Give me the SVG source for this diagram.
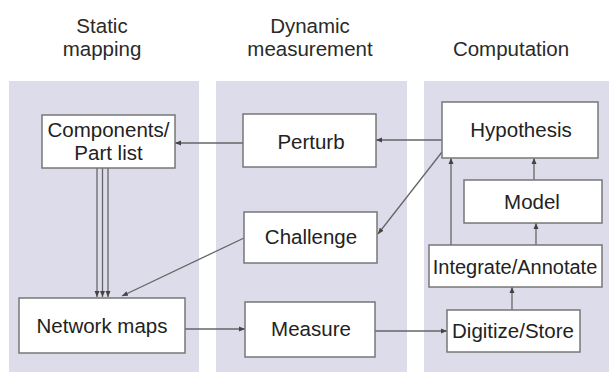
<svg xmlns="http://www.w3.org/2000/svg" width="609" height="372" viewBox="0 0 609 372">
<defs>
<marker id="ah" markerUnits="userSpaceOnUse" markerWidth="6" markerHeight="6" refX="6" refY="3" orient="auto">
<path d="M0,0.5 L6,3 L0,5.5 z" fill="#444"/>
</marker>
<style>
.panel{fill:#dcdcea}
.box{fill:#fff;stroke:#777;stroke-width:1.5}
.t{font-family:"Liberation Sans",Arial,sans-serif;font-size:20.5px;fill:#222;text-anchor:middle}
.h{font-family:"Liberation Sans",Arial,sans-serif;font-size:20.5px;fill:#2a2a2a;text-anchor:middle}
.c{stroke:#666;stroke-width:1.3;fill:none;marker-end:url(#ah)}
</style>
</defs>
<rect width="609" height="372" fill="#fff"/>
<g id="headers">
<text class="h" x="102" y="32.5">Static</text>
<text class="h" x="102" y="55.5">mapping</text>
<text class="h" x="310" y="32.5">Dynamic</text>
<text class="h" x="310" y="55.5">measurement</text>
<text class="h" x="511" y="55.5">Computation</text>
</g>
<g id="panels">
<rect class="panel" x="9" y="81" width="190" height="291"/>
<rect class="panel" x="216" y="81" width="191" height="291"/>
<rect class="panel" x="424" y="81" width="185" height="291"/>
</g>
<g id="connectors">
<line class="c" x1="442" y1="140" x2="376" y2="140"/>
<line class="c" x1="243" y1="143" x2="175" y2="143"/>
<line class="c" x1="442" y1="152" x2="378" y2="234"/>
<line class="c" x1="244" y1="238" x2="122" y2="296"/>
<line class="c" x1="97" y1="168" x2="97" y2="297"/>
<line class="c" x1="102.5" y1="168" x2="102.5" y2="297"/>
<line class="c" x1="108" y1="168" x2="108" y2="297"/>
<line class="c" x1="185" y1="329" x2="245" y2="329"/>
<line class="c" x1="375" y1="331" x2="447" y2="331"/>
<line class="c" x1="512" y1="310" x2="512" y2="287"/>
<line class="c" x1="536" y1="245" x2="536" y2="223"/>
<line class="c" x1="534" y1="180" x2="534" y2="158"/>
<line class="c" x1="451" y1="245" x2="451" y2="158"/>
</g>
<g id="components">
<rect class="box" x="42" y="115" width="133" height="53"/>
<text class="t" x="108.5" y="137">Components/</text>
<text class="t" x="108.5" y="160">Part list</text>
</g>
<g id="network-maps">
<rect class="box" x="19" y="298" width="166" height="55"/>
<text class="t" x="102" y="333">Network maps</text>
</g>
<g id="perturb">
<rect class="box" x="243" y="114" width="133" height="53"/>
<text class="t" x="311" y="148.5">Perturb</text>
</g>
<g id="challenge">
<rect class="box" x="244" y="212" width="133" height="51"/>
<text class="t" x="311" y="244">Challenge</text>
</g>
<g id="measure">
<rect class="box" x="245" y="302" width="130" height="55"/>
<text class="t" x="311" y="336">Measure</text>
</g>
<g id="hypothesis">
<rect class="box" x="442" y="102" width="156" height="56"/>
<text class="t" x="521" y="137">Hypothesis</text>
</g>
<g id="model">
<rect class="box" x="464" y="180" width="138" height="43"/>
<text class="t" x="532" y="208.5">Model</text>
</g>
<g id="integrate">
<rect class="box" x="429" y="245" width="173" height="42"/>
<text class="t" x="515" y="273.5" style="font-size:20px">Integrate/Annotate</text>
</g>
<g id="digitize">
<rect class="box" x="447" y="310" width="133" height="42"/>
<text class="t" x="513" y="337.5">Digitize/Store</text>
</g>
</svg>
